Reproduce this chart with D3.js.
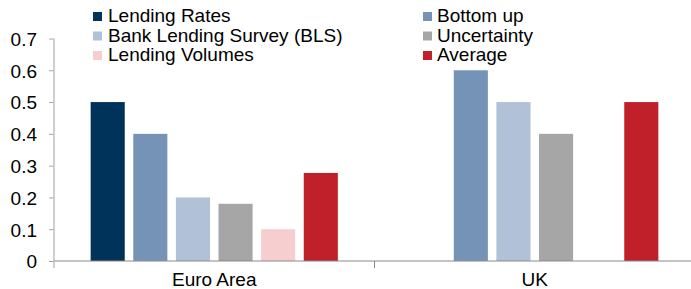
<!DOCTYPE html>
<html>
<head>
<meta charset="utf-8">
<script src="https://cdn.jsdelivr.net/npm/d3@7"></script>
<style>
  html, body { margin: 0; padding: 0; background: #fff; }
  svg { display: block; }
  text { font-family: "Liberation Sans", Arial, sans-serif; fill: #000; }
</style>
</head>
<body>
<svg id="chart" width="691" height="289"></svg>
<script>
// categories and series
var categories = ["Euro Area", "UK"];
var series = ["Lending Rates", "Bottom up", "Bank Lending Survey (BLS)", "Uncertainty", "Lending Volumes", "Average"];
var colors = ["#003359", "#7593b7", "#b0c1d8", "#a6a6a6", "#f6ced0", "#c0202a"];

// values per series, one per category (null = no bar)
var euroValues = [0.5, 0.4, 0.2, 0.18, 0.1, 0.277];
var ukValues = [null, 0.6, 0.5, 0.4, null, 0.5];
var yTicks = [0, 0.1, 0.2, 0.3, 0.4, 0.5, 0.6, 0.7];

var svg = d3.select("#chart");

var x0 = d3.scaleBand().domain(categories).range([54, 695]);
var x1 = d3.scaleBand().domain(series).range([0, x0.bandwidth()])
  .paddingInner(0.2).paddingOuter(0.86);
var y = d3.scaleLinear().domain([0, 0.7]).range([261, 38.5]);

var rows = [];
series.forEach(function (s, i) {
  rows.push({ cat: "Euro Area", s: s, v: euroValues[i], c: colors[i] });
  rows.push({ cat: "UK", s: s, v: ukValues[i], c: colors[i] });
});

// bars
svg.append("g").selectAll("rect")
  .data(rows.filter(function (d) { return d.v != null; }))
  .enter().append("rect")
    .attr("x", function (d) { return x0(d.cat) + x1(d.s); })
    .attr("y", function (d) { return y(d.v); })
    .attr("width", x1.bandwidth())
    .attr("height", function (d) { return y(0) - y(d.v); })
    .attr("fill", function (d) { return d.c; });

// y axis
var yAxis = svg.append("g").attr("transform", "translate(54,0)")
  .call(d3.axisLeft(y).tickValues(yTicks).tickSize(5).tickPadding(12)
    .tickFormat(function (d) { return d === 0 ? "0" : d.toFixed(1); }));
yAxis.select(".domain").remove();
yAxis.append("line").attr("x1", 0).attr("x2", 0).attr("y1", y(0.7)).attr("y2", y(0))
  .attr("stroke", "#bfbfbf").attr("stroke-width", 1.5);
yAxis.selectAll(".tick line").attr("stroke", "#a6a6a6");
yAxis.selectAll(".tick text")
  .attr("dy", "0.36em")
  .style("font-size", "19px").attr("fill", "#000");

// x axis
var xg = svg.append("g");
xg.append("line").attr("x1", 54).attr("x2", 695).attr("y1", y(0)).attr("y2", y(0))
  .attr("stroke", "#8a8a8a").attr("stroke-width", 1.2);
var edges = categories.map(function (c) { return x0(c); }).concat([x0.range()[1]]);
xg.selectAll("line.edge").data(edges).enter().append("line")
  .attr("class", "edge")
  .attr("x1", function (d) { return d; }).attr("x2", function (d) { return d; })
  .attr("y1", y(0)).attr("y2", y(0) + 7)
  .attr("stroke", function (d, i) { return i === 0 ? "#bfbfbf" : "#8a8a8a"; })
  .attr("stroke-width", function (d, i) { return i === 0 ? 1.5 : 1; });
xg.selectAll("text").data(categories).enter().append("text")
  .attr("x", function (d) { return x0(d) + x0.bandwidth() / 2; })
  .attr("y", 286)
  .attr("text-anchor", "middle")
  .style("font-size", "19px")
  .text(function (d) { return d; });

// legend, two columns of three
var lg = svg.append("g");
var item = lg.selectAll("g").data(series).enter().append("g")
  .attr("transform", function (d, i) {
    var col = i % 2, row = Math.floor(i / 2);
    return "translate(" + (col === 0 ? 93 : 423) + "," + (22 + row * 19.5) + ")";
  });
item.append("rect").attr("x", 0).attr("y", -10).attr("width", 9).attr("height", 9)
  .attr("fill", function (d, i) { return colors[i]; });
item.append("text")
  .attr("x", function (d, i) { return i % 2 === 0 ? 15 : 14; })
  .style("font-size", "19px")
  .text(function (d) { return d; });
</script>
</body>
</html>
